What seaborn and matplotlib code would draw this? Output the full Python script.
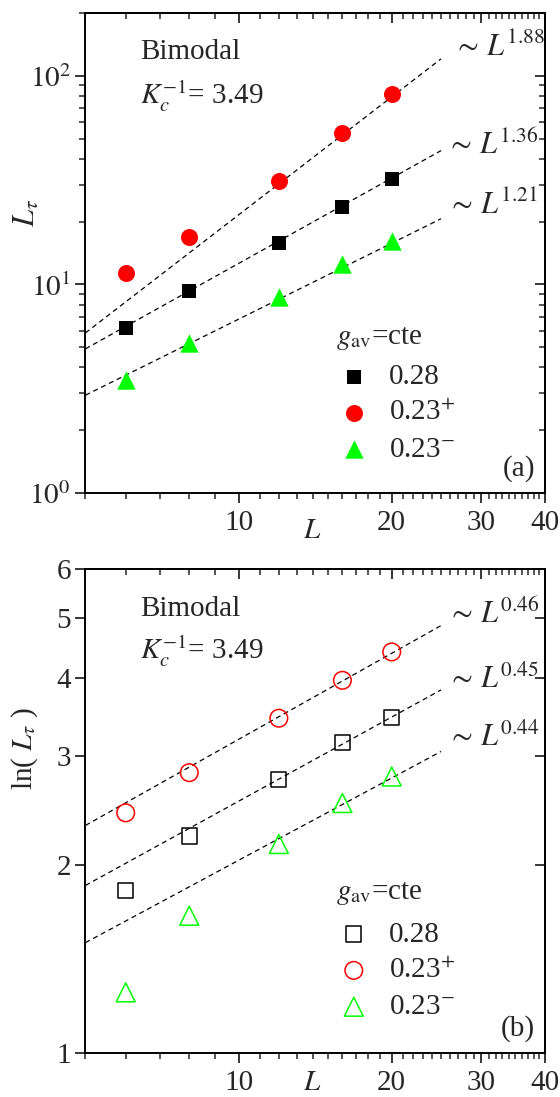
import numpy as np
import pandas as pd
import matplotlib
matplotlib.use("Agg")
import matplotlib.pyplot as plt
import seaborn as sns
from matplotlib.ticker import FixedLocator, NullFormatter, FixedFormatter, NullLocator

# ---------------- data ----------------
L = [6, 8, 12, 16, 20]
series_labels = ["0.28", "0.23$^{+}$", "0.23$^{-}$"]
series_colors = ["black", "#ff0000", "#00ff00"]

Ltau_028 = [6.15, 9.3, 15.8, 23.5, 31.9]
Ltau_023p = [11.3, 16.9, 31.3, 53.1, 82.0]
Ltau_023m = [3.47, 5.23, 8.7, 12.5, 16.1]

lnLtau_028 = [1.82, 2.23, 2.75, 3.15, 3.46]
lnLtau_023p = [2.43, 2.82, 3.45, 3.97, 4.41]
lnLtau_023m = [1.25, 1.66, 2.165, 2.52, 2.78]

fit_range = [5, 25]
exp_top = [1.36, 1.88, 1.21]
pref_top = [0.550, 0.284, 0.420]
exp_bot = [0.45, 0.46, 0.44]
pref_bot = [0.900, 1.106, 0.740]

x_major = [10, 20, 30, 40]
x_minor = [v for v in range(5, 40) if v not in (10, 20, 30, 40)]
ytop_major = [1, 10, 100]
ytop_minor = [m * d for d in (1, 10, 100) for m in range(2, 10)]
ybot_major = [1, 2, 3, 4, 5, 6]

# ---------------- style ----------------
sns.set_theme(style="ticks")
plt.rcParams["font.family"] = ["Liberation Serif", "DejaVu Serif"]
plt.rcParams["mathtext.fontset"] = "stix"
plt.rcParams["axes.linewidth"] = 1.4
FS = 21

fig = plt.figure(figsize=(5.6, 10.97), dpi=100)
ax1 = fig.add_axes([0.1525, 0.5506, 0.8205, 0.4375])
ax2 = fig.add_axes([0.1525, 0.0405, 0.8205, 0.441])


def style_axis(ax, ymaj, ymin, ylim, ylabels):
    ax.set_xscale("log")
    ax.set_yscale("log")
    ax.set_xlim(5, 40)
    ax.set_ylim(*ylim)
    ax.xaxis.set_major_locator(FixedLocator(x_major))
    ax.xaxis.set_major_formatter(FixedFormatter([str(v) for v in x_major]))
    ax.xaxis.set_minor_locator(FixedLocator(x_minor))
    ax.xaxis.set_minor_formatter(NullFormatter())
    ax.yaxis.set_major_locator(FixedLocator(ymaj))
    ax.yaxis.set_major_formatter(FixedFormatter(ylabels))
    if ymin:
        ax.yaxis.set_minor_locator(FixedLocator(ymin))
    else:
        ax.yaxis.set_minor_locator(NullLocator())
    ax.yaxis.set_minor_formatter(NullFormatter())
    ax.tick_params(which="major", direction="out", length=7.5, width=1.3,
                   labelsize=FS, top=False, right=False, pad=3)
    ax.tick_params(axis="x", which="major", pad=5)
    ax.tick_params(which="minor", direction="out", length=4, width=1.1,
                   top=False, right=False)
    for s in ax.spines.values():
        s.set_visible(True)
        s.set_linewidth(1.4)
        s.set_color("black")
    sx = ax.secondary_xaxis("top")
    sx.xaxis.set_major_locator(FixedLocator(x_major))
    sx.xaxis.set_minor_locator(FixedLocator(x_minor))
    sx.xaxis.set_major_formatter(NullFormatter())
    sx.xaxis.set_minor_formatter(NullFormatter())
    sx.tick_params(which="major", direction="in", length=7.5, width=1.3)
    sx.tick_params(which="minor", direction="in", length=4, width=1.1)
    sy = ax.secondary_yaxis("right")
    sy.yaxis.set_major_locator(FixedLocator(ymaj))
    if ymin:
        sy.yaxis.set_minor_locator(FixedLocator(ymin))
    else:
        sy.yaxis.set_minor_locator(NullLocator())
    sy.yaxis.set_major_formatter(NullFormatter())
    sy.yaxis.set_minor_formatter(NullFormatter())
    sy.tick_params(which="major", direction="in", length=7.5, width=1.3)
    sy.tick_params(which="minor", direction="in", length=4, width=1.1)


def draw_panel(ax, ys, exps, prefs, filled, sizes, leg_y, title_y):
    fit_x = np.array(fit_range, dtype=float)
    for e, a in zip(exps, prefs):
        sns.lineplot(x=fit_x, y=a * fit_x ** e, ax=ax, color="black",
                     lw=0.9, linestyle=(0, (4, 3)), legend=False)
    markers = ["s", "o", "^"]
    handles = []
    for y, lab, col, m, s in zip(ys, series_labels, series_colors, markers, sizes):
        if filled:
            sns.scatterplot(x=L, y=y, ax=ax, marker=m, s=s, color=col,
                            edgecolor=col, linewidth=0, label=lab, zorder=5)
        else:
            sns.scatterplot(x=L, y=y, ax=ax, marker=m, s=s,
                            facecolor="none", edgecolor=col,
                            linewidth=1.1, label=lab, zorder=5)
        handles.append(ax.collections[-1])
    ax.legend(handles, series_labels, frameon=False, loc="center left",
              bbox_to_anchor=(0.546, leg_y), fontsize=FS,
              handlelength=1.2, handletextpad=0.6, labelspacing=0.34,
              borderpad=0, borderaxespad=0, scatterpoints=1)
    ax.text(0.546, title_y, r"$g_{\mathrm{av}}$=cte", transform=ax.transAxes,
            fontsize=FS, ha="left", va="center")


draw_panel(ax1, [Ltau_028, Ltau_023p, Ltau_023m], exp_top, pref_top, True,
           [110, 150, 175], 0.166, 0.322)
draw_panel(ax2, [lnLtau_028, lnLtau_023p, lnLtau_023m], exp_bot, pref_bot, False,
           [120, 160, 185], 0.169, 0.328)

style_axis(ax1, ytop_major, ytop_minor, (1, 200),
           [r"$10^{0}$", r"$10^{1}$", r"$10^{2}$"])
style_axis(ax2, ybot_major, None, (1, 6), [str(v) for v in ybot_major])

# texts
for ax, y1, y2 in [(ax1, 0.919, 0.828), (ax2, 0.917, 0.830)]:
    ax.text(0.119, y1, "Bimodal", transform=ax.transAxes, fontsize=FS,
            va="center", ha="left")
    ax.text(0.119, y2, r"$K_c^{-1}$= 3.49", transform=ax.transAxes, fontsize=FS,
            va="center", ha="left")

top_ann = [(0.80, 0.910, "1.88"), (0.785, 0.707, "1.36"), (0.788, 0.581, "1.21")]
bot_ann = [(0.788, 0.888, "0.46"), (0.788, 0.755, "0.45"), (0.788, 0.635, "0.44")]
for ax, anns in [(ax1, top_ann), (ax2, bot_ann)]:
    for x, y, t in anns:
        ax.text(x, y, r"$\sim\,L^{%s}$" % t, transform=ax.transAxes,
                fontsize=22, va="baseline", ha="left")

ax1.text(0.978, 0.051, "(a)", transform=ax1.transAxes, fontsize=FS,
         ha="right", va="center")
ax2.text(0.978, 0.050, "(b)", transform=ax2.transAxes, fontsize=FS,
         ha="right", va="center")

ax1.set_xlabel(r"$L$", fontsize=FS)
ax1.xaxis.label.set_va("center")
ax1.xaxis.set_label_coords(0.493, -0.080)
ax2.set_xlabel(r"$L$", fontsize=FS)
ax2.xaxis.label.set_va("center")
ax2.xaxis.set_label_coords(0.493, -0.062)
ax1.set_ylabel(r"$L_{\tau}$", fontsize=22)
ax1.yaxis.set_label_coords(-0.094, 0.583)
ax2.set_ylabel(r"ln( $L_{\tau}$ )", fontsize=FS)
ax2.yaxis.set_label_coords(-0.099, 0.628)

fig.savefig("out.png", dpi=100)
